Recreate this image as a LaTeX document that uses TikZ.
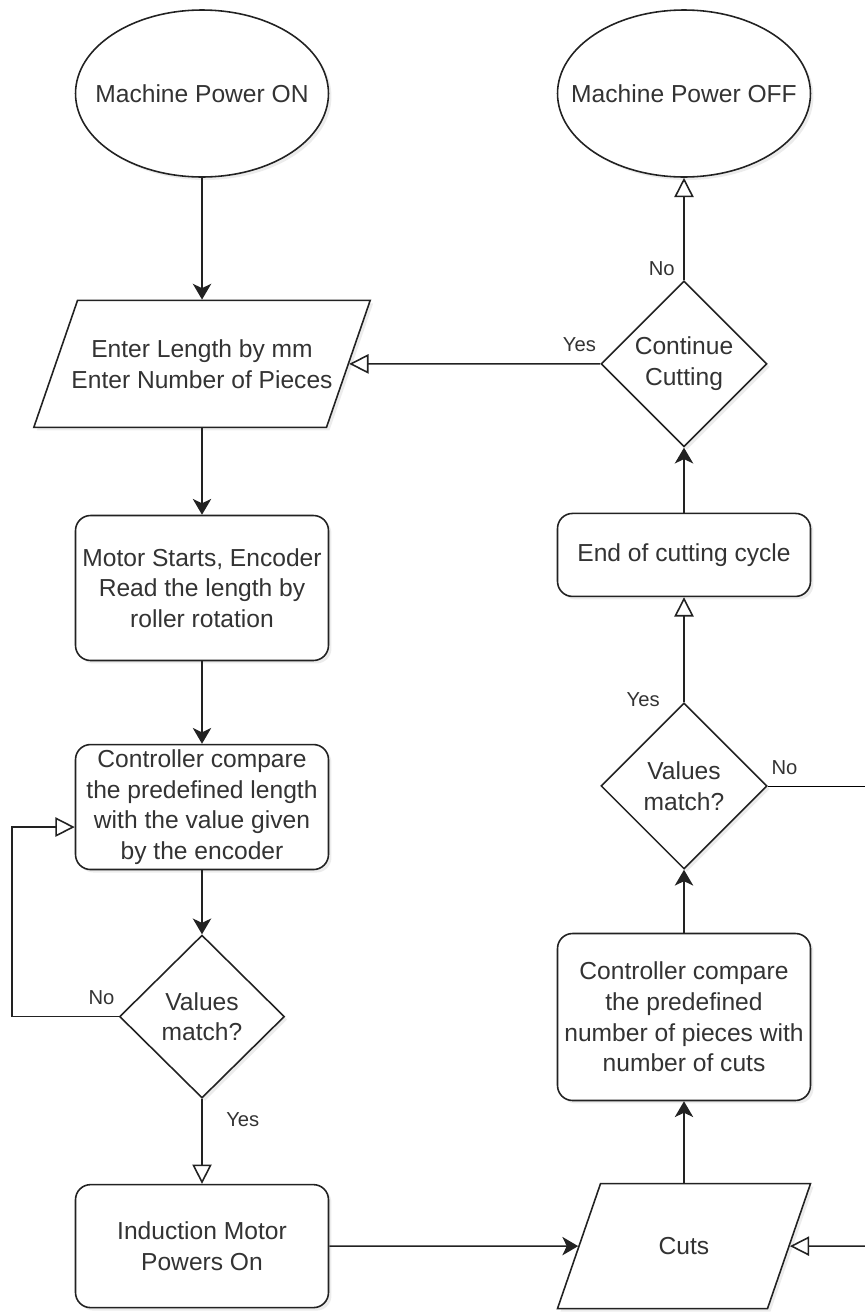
\documentclass[tikz,border=0pt]{standalone}
\usepackage{fontspec}
\setmainfont{Liberation Sans}
\usetikzlibrary{shapes.geometric, arrows.meta, positioning, shadows}

\definecolor{inkgray}{HTML}{333333}
\definecolor{linegray}{HTML}{222222}

% invisible box that fixes the inner size of a slanted node
\newcommand{\slantbody}[2]{\rule{#1}{0pt}\rule{0pt}{#2}}

\begin{document}
\begin{tikzpicture}[
        x=0.02cm, y=-0.02cm,
        node distance=1.7cm and 1cm,
        every node/.style={font=\fontsize{14}{17.5}\selectfont, text=inkgray},
        outline/.style={draw=linegray, fill=white, line width=0.9pt,
            drop shadow={shadow xshift=0.06cm, shadow yshift=-0.06cm, opacity=0.15}},
        base/.style={outline, align=center},
        terminal/.style={base, ellipse, minimum width=5.06cm, minimum height=3.34cm, inner sep=2pt},
        process/.style={base, rectangle, rounded corners=0.3cm, minimum width=5.06cm, inner sep=0.5pt},
        inout/.style={outline, trapezium, trapezium left angle=71, trapezium right angle=109, inner sep=0pt},
        decision/.style={base, diamond, minimum width=3.32cm, minimum height=3.32cm, inner sep=0pt},
        lbl/.style={font=\fontsize{11.5}{14}\selectfont, inner sep=2pt},
        flow/.style={-{Stealth[length=9pt, width=10.5pt, inset=2.5pt]}, draw=linegray, line width=0.9pt},
        back/.style={-{Triangle[open, length=11pt, width=11pt, fill=white]}, draw=linegray, line width=0.9pt}
    ]
    \useasboundingbox (0,0) rectangle (865,1312);

    % right column, top part
    \node[process, minimum height=3.34cm] (ctrlB) at (684,1017) {Controller compare\\the predefined\\number of pieces with\\number of cuts};
    \node[decision] (matchB) [above=1.26cm of ctrlB] {Values\\match?};
    \node[process, minimum height=1.66cm] (cycle) [above=2.1cm of matchB] {End of cutting cycle};
    \node[decision] (cont) [above=1.3cm of cycle] {Continue\\Cutting};

    % left column
    \node[terminal, label={center:Machine Power ON}] (poweron) at (202,93.5) {};
    \node[terminal, label={center:Machine Power OFF}] (poweroff) at (cont |- poweron) {};
    \node[inout, label={[align=center]center:{Enter Length by mm\\Enter Number of Pieces}}] (enter)
        at (poweron |- cont) {\slantbody{4.98cm}{2.54cm}};
    \node[process, minimum height=2.9cm] (motor) at (202,588) {Motor Starts, Encoder\\Read the length by\\roller rotation};
    \node[process, minimum height=2.5cm] (ctrlA) [below=1.65cm of motor] {Controller compare\\the predefined length\\with the value given\\by the encoder};
    \node[decision, minimum width=3.3cm, minimum height=3.26cm] (matchA) [below=1.28cm of ctrlA] {Values\\match?};
    \node[process, minimum height=2.46cm] (induct) [below=1.7cm of matchA] {Induction Motor\\Powers On};
    \node[inout, label={center:Cuts}] (cuts) at (induct -| ctrlB) {\slantbody{3.34cm}{2.5cm}};

    \coordinate (loopx) at (12,0);
    \coordinate (rim) at (865,0);

    \draw[flow] (poweron) -- (enter);
    \draw[flow] (enter) -- (motor);
    \draw[flow] (motor) -- (ctrlA);
    \draw[flow] (ctrlA) -- (matchA);
    \draw[back] (matchA) -- node[lbl, pos=0.25, right=0.4cm] {Yes} (induct);
    \draw[back] (matchA.west) -- node[lbl, at start, above left, yshift=0.15cm] {No} (matchA.west -| loopx)
        |- ([yshift=-0.4cm]ctrlA.west);
    \draw[flow] (induct) -- (cuts);
    \draw[flow] (cuts) -- (ctrlB);
    \draw[flow] (ctrlB) -- (matchB);
    \draw[back] (matchB) -- node[lbl, at start, left=0.4cm, yshift=0.06cm] {Yes} (cycle);
    \draw (matchB.east) -- node[lbl, at start, above right, yshift=0.15cm] {No} (matchB.east -| rim);
    \draw[back] (cuts -| rim) -- (cuts);
    \draw[flow] (cycle) -- (cont);
    \draw[back] (cont) -- node[lbl, at start, above left, xshift=-0.1cm] {No} (poweroff);
    \draw[back] (cont) -- node[lbl, at start, above left, yshift=0.15cm] {Yes} (enter);
\end{tikzpicture}
\end{document}
